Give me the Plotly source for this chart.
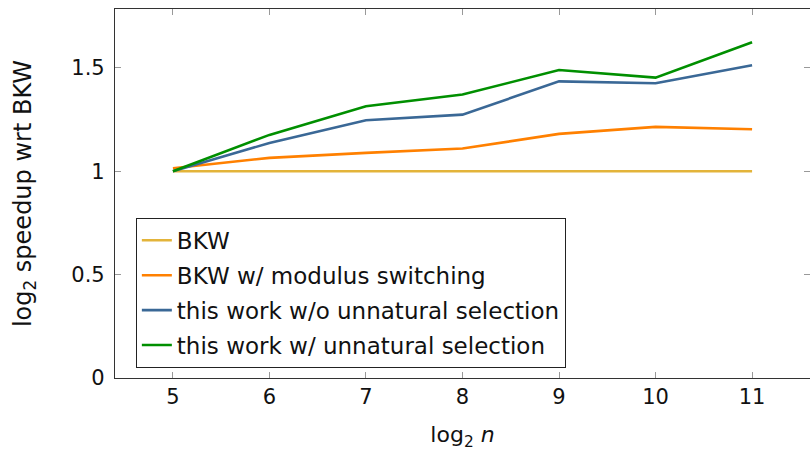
import plotly.graph_objects as go

log2_n = [5, 6, 7, 8, 9, 10, 11]
bkw = [1, 1, 1, 1, 1, 1, 1]
bkw_modsw = [1.015, 1.065, 1.089, 1.110, 1.181, 1.215, 1.203]
work_wo_us = [1.0, 1.137, 1.247, 1.274, 1.435, 1.426, 1.513]
work_w_us = [1.0, 1.176, 1.315, 1.371, 1.490, 1.453, 1.624]

names = ["BKW", "BKW w/ modulus switching",
         "this work w/o unnatural selection", "this work w/ unnatural selection"]
colors = ["#E3B43A", "#FF8000", "#3A6896", "#008F00"]
series = [bkw, bkw_modsw, work_wo_us, work_w_us]

x_ticks = [5, 6, 7, 8, 9, 10, 11]
y_ticks = [0, 0.5, 1, 1.5]
y_tick_text = ["0", "0.5", "1", "1.5"]

FONT = "DejaVu Sans"

fig = go.Figure()
for i, (nm, c, ys) in enumerate(zip(names, colors, series)):
    fig.add_trace(go.Scatter(x=log2_n, y=ys, mode="lines", name=nm,
                             legendgroup=str(i),
                             line=dict(color=c, width=2.6)))

axis_common = dict(showline=True, linecolor="#333333", linewidth=1.2,
                   mirror="ticks", ticks="inside", ticklen=6, tickwidth=1,
                   tickcolor="#999999", showgrid=False, zeroline=False,
                   tickfont=dict(family=FONT, size=21, color="#111111"))

fig.update_layout(
    width=810, height=451,
    margin=dict(l=115, r=0, t=9, b=73),
    plot_bgcolor="white", paper_bgcolor="white",
    font=dict(family=FONT, size=21, color="#111111"),
    xaxis=dict(range=[4.4, 11.6], tickvals=x_ticks,
               title=dict(text="log<sub>2</sub> <i>n</i>", standoff=18,
                          font=dict(family=FONT, size=22)),
               **axis_common),
    yaxis=dict(range=[0, 1.785], tickvals=y_ticks, ticktext=y_tick_text,
               ticklabelstandoff=5,
               title=dict(text="log<sub>2</sub> speedup wrt BKW", standoff=32,
                          font=dict(family=FONT, size=24)),
               **axis_common),
    legend=dict(x=0.03, y=0.434, xanchor="left", yanchor="top",
                bgcolor="white", bordercolor="#222222", borderwidth=1,
                traceorder="grouped", tracegroupgap=2,
                font=dict(family=FONT, size=23, color="#111111")),
    showlegend=True,
)

fig.write_html("out.html")
